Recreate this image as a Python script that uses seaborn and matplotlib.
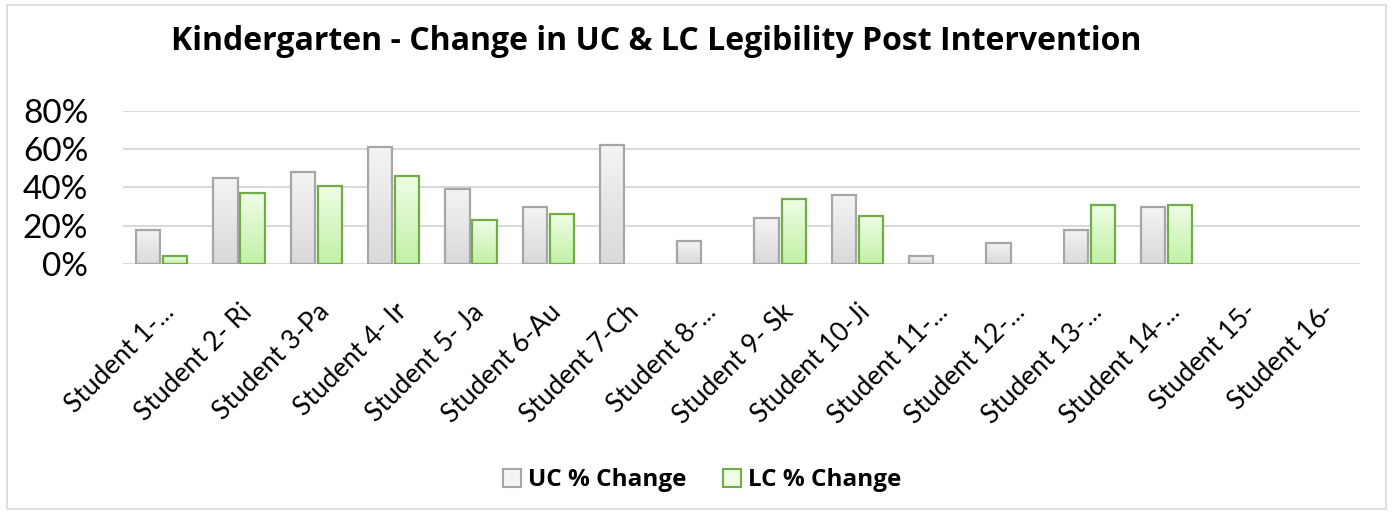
import numpy as np
import pandas as pd
import matplotlib
matplotlib.use("Agg")
import matplotlib.pyplot as plt
import matplotlib.transforms as mtransforms
from matplotlib.patches import Patch, Rectangle
from matplotlib.colors import LinearSegmentedColormap
from matplotlib.ticker import PercentFormatter
import seaborn as sns

# datos (None = sin barra)
students = ["Student 1-...", "Student 2- Ri", "Student 3-Pa", "Student 4- Ir",
            "Student 5- Ja", "Student 6-Au", "Student 7-Ch", "Student 8-...",
            "Student 9- Sk", "Student 10-Ji", "Student 11-...", "Student 12-...",
            "Student 13-...", "Student 14-...", "Student 15-", "Student 16-"]
uc_change = [0.18, 0.45, 0.48, 0.61, 0.39, 0.30, 0.62, 0.12,
             0.24, 0.36, 0.04, 0.11, 0.18, 0.30, None, None]
lc_change = [0.04, 0.37, 0.41, 0.46, 0.23, 0.26, None, None,
             0.34, 0.25, None, None, 0.31, 0.31, None, None]
series_names = ["UC % Change", "LC % Change"]
y_ticks = [0, 0.2, 0.4, 0.6, 0.8]

df = pd.DataFrame({
    "student": students * 2,
    "value": uc_change + lc_change,
    "series": [series_names[0]] * len(students) + [series_names[1]] * len(students),
})
df["value"] = pd.to_numeric(df["value"], errors="coerce")

sns.set_theme(style="white")
plt.rcParams["font.family"] = ["Lato", "DejaVu Sans"]
plt.rcParams["text.color"] = "black"

fig = plt.figure(figsize=(13.93, 5.12), dpi=100)
ax = fig.add_axes([0.0883, 0.4844, 0.888, 0.2988])

face = {series_names[0]: "#e6e6e6", series_names[1]: "#d6f5c4"}
edges = {series_names[0]: "#a6a6a6", series_names[1]: "#70ad47"}
grads = {series_names[0]: ("#f4f4f4", "#d9d9d9"), series_names[1]: ("#effde6", "#c2f0a6")}

sns.barplot(data=df, x="student", y="value", hue="series", order=students,
            hue_order=series_names, palette=face, width=0.7, gap=0.1,
            legend=False, ax=ax, zorder=3)

# bordes y degradado vertical en cada barra
for cont, name in zip(ax.containers, series_names):
    cmap = LinearSegmentedColormap.from_list(name, [grads[name][1], grads[name][0]])
    for bar in cont:
        h = bar.get_height()
        if not np.isfinite(h) or h <= 0:
            continue
        bar.set_edgecolor(edges[name])
        bar.set_linewidth(1.6)
        bar.set_facecolor("none")
        x0 = bar.get_x()
        img = ax.imshow(np.linspace(0, 1, 64).reshape(-1, 1), cmap=cmap, origin="lower",
                        extent=[x0, x0 + bar.get_width(), 0, h], aspect="auto", zorder=2.9)
        img.set_clip_path(bar)

ax.set_xlim(-0.5, len(students) - 0.5)
ax.set_ylim(0, 0.8)
ax.set_yticks(y_ticks)
ax.yaxis.set_major_formatter(PercentFormatter(1.0, decimals=0))
ax.grid(axis="y", color="#d9d9d9", linewidth=1.5, zorder=0)
ax.set_axisbelow(True)
for s in ax.spines.values():
    s.set_visible(False)
ax.set_xlabel("")
ax.set_ylabel("")
ax.tick_params(axis="y", labelsize=24, pad=25, length=0, labelcolor="black")
ax.tick_params(axis="x", labelsize=19, pad=0, length=0, labelcolor="black")
shift = mtransforms.ScaledTranslation(0.09, -0.44, fig.dpi_scale_trans)
for lab in ax.get_xticklabels():
    lab.set_rotation(45)
    lab.set_ha("right")
    lab.set_va("center")
    lab.set_rotation_mode("anchor")
    lab.set_transform(lab.get_transform() + shift)

fig.text(0.471, 0.918, "Kindergarten - Change in UC & LC Legibility Post Intervention",
         ha="center", va="center", fontsize=23, fontweight="bold", family="Open Sans",
         color="black")

handles = [Patch(facecolor=grads[n][0], edgecolor=edges[n], linewidth=1.5, label=n)
           for n in series_names]
fig.legend(handles=handles, loc="center", bbox_to_anchor=(0.504, 0.062), ncol=2,
           frameon=False, prop={"family": "Open Sans", "weight": "bold", "size": 17.5},
           handlelength=0.75, handleheight=0.75, handletextpad=0.3, columnspacing=1.5)

# marco exterior del grafico
fig.patches.append(Rectangle((0.005, 0.006), 0.99, 0.984, transform=fig.transFigure,
                             fill=False, edgecolor="#d9d9d9", linewidth=1.2))

fig.savefig("out.png", dpi=100)
